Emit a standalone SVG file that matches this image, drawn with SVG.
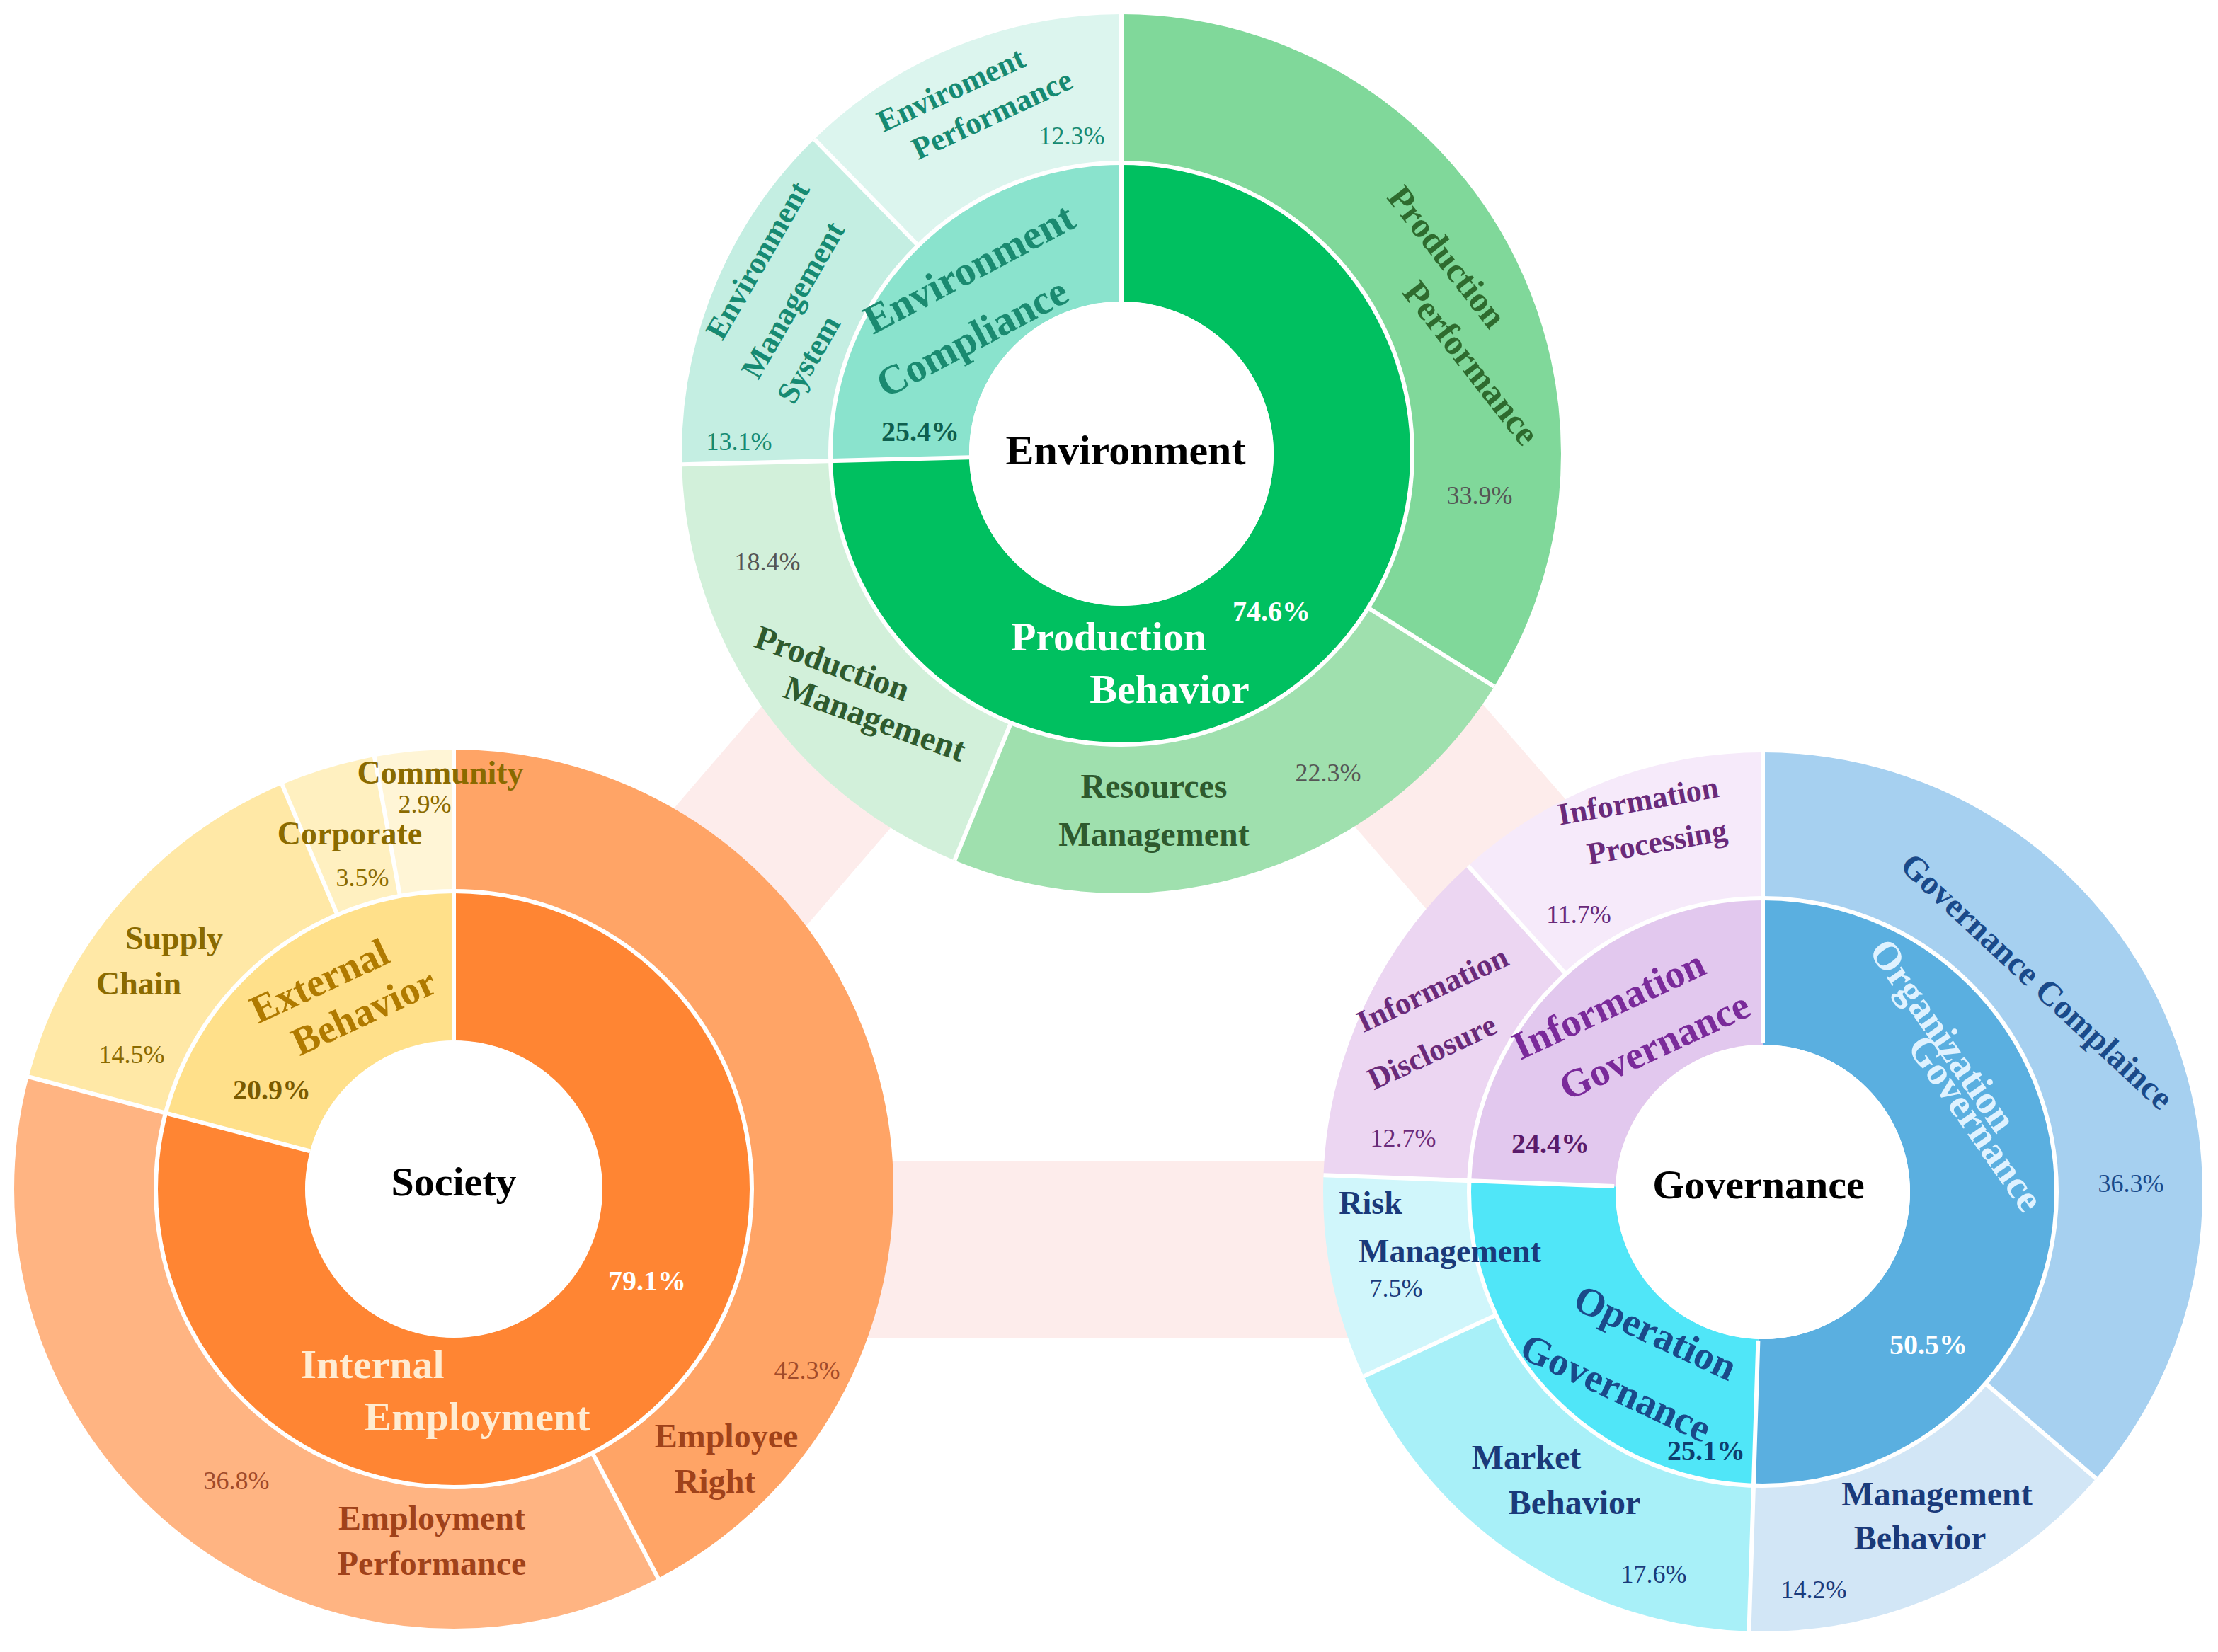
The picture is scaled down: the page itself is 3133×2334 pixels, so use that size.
<svg xmlns="http://www.w3.org/2000/svg" width="3133" height="2334" viewBox="0 0 3133 2334">
<style>
text{font-family:"Liberation Serif",serif;font-weight:bold;text-anchor:middle;dominant-baseline:middle}
.seg{fill:none}
.sep{stroke:#fff;stroke-width:6}
.ring{fill:none;stroke:#fff;stroke-width:6}
.pc{font-size:36px;font-weight:normal}
</style>
<rect width="3133" height="2334" fill="#fff"/>
<g id="bands" stroke="#fdeceb" stroke-width="250" fill="none">
<line x1="641" y1="1765" x2="2490" y2="1765"/>
<line x1="1480" y1="720" x2="740" y2="1580"/>
<line x1="1690" y1="720" x2="2420" y2="1560"/>
</g>
<g id="environment">
<g transform="rotate(-90 1584 641)">
<circle class="seg" cx="1584" cy="641" r="313" stroke-width="196" pathLength="100" stroke="#00c060" stroke-dasharray="74.6 100"/>
<circle class="seg" cx="1584" cy="641" r="313" stroke-width="196" pathLength="100" stroke="#8ae3cd" stroke-dasharray="25.4 100" stroke-dashoffset="-74.6"/>
<circle class="seg" cx="1584" cy="641" r="516" stroke-width="210" pathLength="100" stroke="#80d89a" stroke-dasharray="33.9 100"/>
<circle class="seg" cx="1584" cy="641" r="516" stroke-width="210" pathLength="100" stroke="#9fe0ae" stroke-dasharray="22.3 100" stroke-dashoffset="-33.9"/>
<circle class="seg" cx="1584" cy="641" r="516" stroke-width="210" pathLength="100" stroke="#d2f0da" stroke-dasharray="18.4 100" stroke-dashoffset="-56.2"/>
<circle class="seg" cx="1584" cy="641" r="516" stroke-width="210" pathLength="100" stroke="#c4eee2" stroke-dasharray="13.1 100" stroke-dashoffset="-74.6"/>
<circle class="seg" cx="1584" cy="641" r="516" stroke-width="210" pathLength="100" stroke="#dcf5ee" stroke-dasharray="12.3 100" stroke-dashoffset="-87.7"/>
</g>
<circle class="ring" cx="1584" cy="641" r="411"/>
<line class="sep" x1="1584" y1="426" x2="1584" y2="20"/>
<line class="sep" x1="1584" y1="426" x2="1584" y2="20" transform="rotate(268.6 1584 641)"/>
<line class="sep" x1="1584" y1="230" x2="1584" y2="20" transform="rotate(122 1584 641)"/>
<line class="sep" x1="1584" y1="230" x2="1584" y2="20" transform="rotate(202.3 1584 641)"/>
<line class="sep" x1="1584" y1="230" x2="1584" y2="20" transform="rotate(315.7 1584 641)"/>
<circle cx="1584" cy="641" r="215" fill="#fff"/>
<text x="1590" y="642" font-size="60" fill="#000">Environment</text>
<text x="1566" y="906" font-size="58" fill="#fff">Production</text>
<text x="1652" y="980" font-size="58" fill="#fff">Behavior</text>
<text x="1796" y="868" font-size="40" fill="#fff">74.6%</text>
<g transform="rotate(-28 1380 430)" fill="#1a8a70" font-size="58"><text x="1394" y="386">Environment</text><text x="1352" y="474">Compliance</text></g>
<text x="1300" y="614" font-size="40" fill="#0e5e4e">25.4%</text>
<text x="2040" y="366" font-size="50" fill="#2e6b2e" transform="rotate(52 2040 366)">Production</text>
<text x="2074" y="516" font-size="50" fill="#2e6b2e" transform="rotate(52 2074 516)">Performance</text>
<text x="2090" y="704" class="pc" fill="#555">33.9%</text>
<text x="1630" y="1116" font-size="48" fill="#2e5a2e">Resources</text>
<text x="1630" y="1184" font-size="48" fill="#2e5a2e">Management</text>
<text x="1876" y="1096" class="pc" fill="#555">22.3%</text>
<text x="1174" y="942" font-size="48" fill="#2e5a2e" transform="rotate(20 1174 942)">Production</text>
<text x="1234" y="1020" font-size="48" fill="#2e5a2e" transform="rotate(20 1234 1020)">Management</text>
<text x="1084" y="798" class="pc" fill="#555">18.4%</text>
<g fill="#168a72" font-size="44"><text x="1074" y="370" transform="rotate(-60 1074 370)">Environment</text><text x="1124" y="426" transform="rotate(-60 1124 426)">Management</text><text x="1146" y="510" transform="rotate(-60 1146 510)">System</text></g>
<text x="1044" y="628" class="pc" fill="#168a72">13.1%</text>
<g fill="#168a72" font-size="44" transform="rotate(-25 1375 150)"><text x="1356" y="120">Enviroment</text><text x="1394" y="176">Performance</text></g>
<text x="1514" y="196" class="pc" fill="#168a72">12.3%</text>
</g>
<g id="society">
<g transform="rotate(-90 641 1680)">
<circle class="seg" cx="641" cy="1680" r="315" stroke-width="211" pathLength="100" stroke="#ff8533" stroke-dasharray="79.1 100"/>
<circle class="seg" cx="641" cy="1680" r="315" stroke-width="211" pathLength="100" stroke="#ffe08a" stroke-dasharray="20.9 100" stroke-dashoffset="-79.1"/>
<circle class="seg" cx="641" cy="1680" r="521" stroke-width="200" pathLength="100" stroke="#ffa466" stroke-dasharray="42.3 100"/>
<circle class="seg" cx="641" cy="1680" r="521" stroke-width="200" pathLength="100" stroke="#ffb482" stroke-dasharray="36.8 100" stroke-dashoffset="-42.3"/>
<circle class="seg" cx="641" cy="1680" r="521" stroke-width="200" pathLength="100" stroke="#ffe8a6" stroke-dasharray="14.5 100" stroke-dashoffset="-79.1"/>
<circle class="seg" cx="641" cy="1680" r="521" stroke-width="200" pathLength="100" stroke="#fff0c0" stroke-dasharray="3.5 100" stroke-dashoffset="-93.6"/>
<circle class="seg" cx="641" cy="1680" r="521" stroke-width="200" pathLength="100" stroke="#fff5d6" stroke-dasharray="2.9 100" stroke-dashoffset="-97.1"/>
</g>
<circle class="ring" cx="641" cy="1680" r="421"/>
<line class="sep" x1="641" y1="1470" x2="641" y2="1055"/>
<line class="sep" x1="641" y1="1470" x2="641" y2="1055" transform="rotate(284.8 641 1680)"/>
<line class="sep" x1="641" y1="1259" x2="641" y2="1055" transform="rotate(152.3 641 1680)"/>
<line class="sep" x1="641" y1="1259" x2="641" y2="1055" transform="rotate(337 641 1680)"/>
<line class="sep" x1="641" y1="1259" x2="641" y2="1055" transform="rotate(349.6 641 1680)"/>
<circle cx="641" cy="1680" r="210" fill="#fff"/>
<text x="641" y="1676" font-size="58" fill="#000">Society</text>
<text x="914" y="1814" font-size="40" fill="#fff">79.1%</text>
<text x="526" y="1934" font-size="58" fill="#ffecd2">Internal</text>
<text x="674" y="2008" font-size="58" fill="#ffecd2">Employment</text>
<g fill="#b07a00" font-size="56" transform="rotate(-25 485 1413)"><text x="466" y="1380">External</text><text x="504" y="1446">Behavior</text></g>
<text x="384" y="1544" font-size="40" fill="#7a5a00">20.9%</text>
<text x="1026" y="2034" font-size="48" fill="#a0421a">Employee</text>
<text x="1010" y="2098" font-size="48" fill="#a0421a">Right</text>
<text x="1140" y="1940" class="pc" fill="#a04a2a">42.3%</text>
<text x="610" y="2150" font-size="48" fill="#a0421a">Employment</text>
<text x="610" y="2214" font-size="48" fill="#a0421a">Performance</text>
<text x="334" y="2096" class="pc" fill="#a04a2a">36.8%</text>
<text x="246" y="1330" font-size="46" fill="#8a6a00">Supply</text>
<text x="196" y="1394" font-size="46" fill="#8a6a00">Chain</text>
<text x="186" y="1494" class="pc" fill="#8a6a00">14.5%</text>
<text x="494" y="1182" font-size="46" fill="#8a6a00">Corporate</text>
<text x="512" y="1244" class="pc" fill="#8a6a00">3.5%</text>
<text x="622" y="1096" font-size="46" fill="#8a6a00">Community</text>
<text x="600" y="1140" class="pc" fill="#8a6a00">2.9%</text>
</g>
<g id="governance">
<g transform="rotate(-90 2490 1684)">
<circle class="seg" cx="2490" cy="1684" r="311" stroke-width="206" pathLength="100" stroke="#5aafe0" stroke-dasharray="50.5 100"/>
<circle class="seg" cx="2490" cy="1684" r="311" stroke-width="206" pathLength="100" stroke="#50e6f8" stroke-dasharray="25.1 100" stroke-dashoffset="-50.5"/>
<circle class="seg" cx="2490" cy="1684" r="311" stroke-width="206" pathLength="100" stroke="#e2c8ee" stroke-dasharray="24.4 100" stroke-dashoffset="-75.6"/>
<circle class="seg" cx="2490" cy="1684" r="518" stroke-width="206" pathLength="100" stroke="#a6d0f0" stroke-dasharray="36.3 100"/>
<circle class="seg" cx="2490" cy="1684" r="518" stroke-width="206" pathLength="100" stroke="#d2e6f6" stroke-dasharray="14.2 100" stroke-dashoffset="-36.3"/>
<circle class="seg" cx="2490" cy="1684" r="518" stroke-width="206" pathLength="100" stroke="#a8f0f8" stroke-dasharray="17.6 100" stroke-dashoffset="-50.5"/>
<circle class="seg" cx="2490" cy="1684" r="518" stroke-width="206" pathLength="100" stroke="#d0f6fb" stroke-dasharray="7.5 100" stroke-dashoffset="-68.1"/>
<circle class="seg" cx="2490" cy="1684" r="518" stroke-width="206" pathLength="100" stroke="#ecd6f2" stroke-dasharray="12.7 100" stroke-dashoffset="-75.6"/>
<circle class="seg" cx="2490" cy="1684" r="518" stroke-width="206" pathLength="100" stroke="#f6eafa" stroke-dasharray="11.7 100" stroke-dashoffset="-88.3"/>
</g>
<circle class="ring" cx="2490" cy="1684" r="415"/>
<line class="sep" x1="2490" y1="1474" x2="2490" y2="1063"/>
<line class="sep" x1="2490" y1="1474" x2="2490" y2="1063" transform="rotate(181.8 2490 1684)"/>
<line class="sep" x1="2490" y1="1474" x2="2490" y2="1063" transform="rotate(272.2 2490 1684)"/>
<line class="sep" x1="2490" y1="1269" x2="2490" y2="1063" transform="rotate(130.7 2490 1684)"/>
<line class="sep" x1="2490" y1="1269" x2="2490" y2="1063" transform="rotate(245.2 2490 1684)"/>
<line class="sep" x1="2490" y1="1269" x2="2490" y2="1063" transform="rotate(317.9 2490 1684)"/>
<circle cx="2490" cy="1684" r="208" fill="#fff"/>
<text x="2484" y="1680" font-size="58" fill="#000">Governance</text>
<text x="2740" y="1466" font-size="56" fill="#dff2ff" transform="rotate(55 2740 1466)">Organization</text>
<text x="2786" y="1590" font-size="56" fill="#dff2ff" transform="rotate(55 2786 1590)">Governance</text>
<text x="2724" y="1904" font-size="40" fill="#fff">50.5%</text>
<text x="2874" y="1390" font-size="48" fill="#1a4a8a" transform="rotate(43 2874 1390)">Governance Complaince</text>
<text x="3010" y="1676" class="pc" fill="#1a4a8a">36.3%</text>
<text x="2736" y="2116" font-size="48" fill="#1a3a7a">Management</text>
<text x="2712" y="2178" font-size="48" fill="#1a3a7a">Behavior</text>
<text x="2562" y="2250" class="pc" fill="#1a3a7a">14.2%</text>
<text x="2156" y="2064" font-size="48" fill="#1a3a7a">Market</text>
<text x="2224" y="2128" font-size="48" fill="#1a3a7a">Behavior</text>
<text x="2336" y="2228" class="pc" fill="#1a3a7a">17.6%</text>
<text x="2336" y="1888" font-size="56" fill="#1a4a8a" transform="rotate(25 2336 1888)">Operation</text>
<text x="2280" y="1966" font-size="56" fill="#1a4a8a" transform="rotate(25 2280 1966)">Governance</text>
<text x="2410" y="2054" font-size="40" fill="#0e3e6e">25.1%</text>
<text x="1936" y="1704" font-size="46" fill="#1a3a7a">Risk</text>
<text x="2048" y="1772" font-size="46" fill="#1a3a7a">Management</text>
<text x="1972" y="1824" class="pc" fill="#1a3a7a">7.5%</text>
<g fill="#6a2a7a" font-size="44" transform="rotate(-25 2025 1446)"><text x="2044" y="1406">Information</text><text x="2006" y="1486">Disclosure</text></g>
<text x="1982" y="1612" class="pc" fill="#6a2a7a">12.7%</text>
<g fill="#7a2a9a" font-size="56" transform="rotate(-25 2307 1454)"><text x="2290" y="1414">Information</text><text x="2324" y="1494">Governance</text></g>
<text x="2190" y="1620" font-size="40" fill="#5a1a6a">24.4%</text>
<g fill="#6a2a7a" font-size="44" transform="rotate(-10 2328 1165)"><text x="2320" y="1134">Information</text><text x="2336" y="1196">Processing</text></g>
<text x="2230" y="1296" class="pc" fill="#6a2a7a">11.7%</text>
</g>
</svg>
